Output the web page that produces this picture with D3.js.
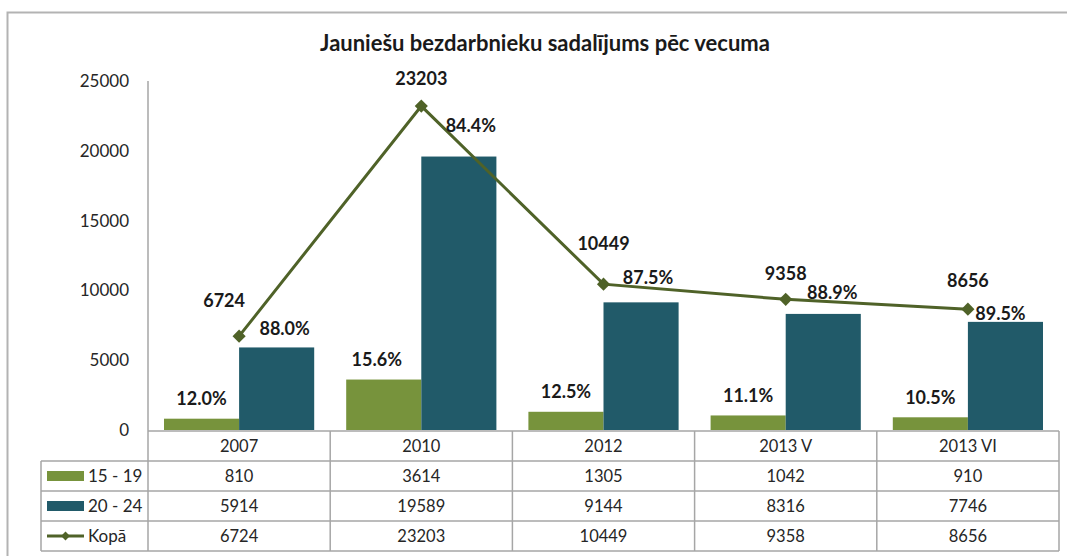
<!DOCTYPE html>
<html>
<head>
<meta charset="utf-8">
<script src="https://cdn.jsdelivr.net/npm/d3@7"></script>
<style>
	body { margin: 0; background: #fff; }
	svg { display: block; font-family: "Lato", "Open Sans", sans-serif; }
</style>
</head>
<body>
<script>
const categories = ["2007", "2010", "2012", "2013 V", "2013 VI"];
const age1519 = [810, 3614, 1305, 1042, 910];
const age2024 = [5914, 19589, 9144, 8316, 7746];
const kopa = [6724, 23203, 10449, 9358, 8656];
const yTicks = [0, 5000, 10000, 15000, 20000, 25000];
const seriesNames = ["15 - 19", "20 - 24", "Kopā"];
const titleText = "Jauniešu bezdarbnieku sadalījums pēc vecuma";

// label nudges (dx, dy) like the hand-moved labels in the original
const kopaNudge = [[-15, -35], [0, -27], [0, -40], [0, -26], [0, -28]];
const pctNudge1519 = [[0, -20], [-7, -20], [0, -20], [0, -20], [0, -20]];
const pctNudge2024 = [[8, -19], [12, -31], [7, -25], [9, -21], [-5, -8]];

const width = 1067;
const height = 556;
const green = "#77933c";
const teal = "#215a69";
const lineCol = "#4f6228";
const gridCol = "#a6a6a6";

const plotLeft = 148;
const plotRight = 1059;
const plotTop = 81;
const plotBottom = 430;
const rowH = 30;
const tableTop = 431;
const legendLeft = 41;

const svg = d3
	.select("body")
	.append("svg")
	.attr("width", width)
	.attr("height", height);

// outer chart border (runs off the right and bottom edge)
svg.append("rect")
	.attr("x", 7.5)
	.attr("y", 12.5)
	.attr("width", width + 20)
	.attr("height", height + 20)
	.attr("fill", "none")
	.attr("stroke", "#b3b3b3")
	.attr("stroke-width", 2);

svg.append("text")
	.attr("x", 545)
	.attr("y", 51)
	.attr("text-anchor", "middle")
	.attr("font-size", 22)
	.attr("font-weight", "bold")
	.attr("fill", "#1a1a1a")
	.text(titleText);

const x0 = d3.scaleBand().domain(categories).range([plotLeft, plotRight]);
const x1 = d3
	.scaleBand()
	.domain([0, 1])
	.range([16, x0.bandwidth() - 16]);
const y = d3.scaleLinear().domain([0, 25000]).range([plotBottom, plotTop]);

// y axis labels, no tick marks
const yAxis = svg
	.append("g")
	.attr("transform", `translate(${plotLeft},0)`)
	.call(d3.axisLeft(y).tickValues(yTicks).tickSize(0).tickPadding(19).tickFormat(d3.format("d")));
yAxis.select(".domain").remove();
yAxis.selectAll("text")
	.attr("font-size", 17)
	.attr("font-family", "Lato, 'Open Sans', sans-serif")
	.attr("fill", "#262626");

// bars
const barData = [];
categories.forEach((c, i) => {
	barData.push({ cat: c, s: 0, v: age1519[i] });
	barData.push({ cat: c, s: 1, v: age2024[i] });
});
svg.append("g")
	.selectAll("rect")
	.data(barData)
	.enter()
	.append("rect")
	.attr("x", (d) => x0(d.cat) + x1(d.s))
	.attr("y", (d) => y(d.v))
	.attr("width", x1.bandwidth())
	.attr("height", (d) => plotBottom - y(d.v))
	.attr("fill", (d) => (d.s == 0 ? green : teal));

// axis lines
svg.append("line")
	.attr("x1", plotLeft).attr("x2", plotLeft)
	.attr("y1", plotTop).attr("y2", tableTop + rowH * 4)
	.attr("stroke", gridCol).attr("stroke-width", 1.5);

// data table
const tbl = svg.append("g").attr("stroke", gridCol).attr("stroke-width", 1.5);
for (let r = 0; r <= 4; r++) {
	tbl.append("line")
		.attr("x1", r == 0 ? plotLeft : legendLeft)
		.attr("x2", plotRight)
		.attr("y1", tableTop + r * rowH)
		.attr("y2", tableTop + r * rowH);
}
tbl.append("line")
	.attr("x1", legendLeft).attr("x2", legendLeft)
	.attr("y1", tableTop + rowH).attr("y2", tableTop + rowH * 4);
categories.forEach((c) => {
	tbl.append("line")
		.attr("x1", x0(c) + x0.bandwidth()).attr("x2", x0(c) + x0.bandwidth())
		.attr("y1", tableTop).attr("y2", tableTop + rowH * 4);
});

const rows = [categories, age1519, age2024, kopa];
rows.forEach((row, r) => {
	svg.append("g")
		.selectAll("text")
		.data(row)
		.enter()
		.append("text")
		.attr("x", (d, i) => x0(categories[i]) + x0.bandwidth() / 2)
		.attr("y", tableTop + r * rowH + rowH / 2)
		.attr("dy", "0.35em")
		.attr("text-anchor", "middle")
		.attr("font-size", 16.5)
		.attr("fill", "#262626")
		.text((d) => d);
});

// legend keys in the table
seriesNames.forEach((name, i) => {
	const cy = tableTop + (i + 1) * rowH + rowH / 2;
	if (i < 2) {
		svg.append("rect")
			.attr("x", 47).attr("y", cy - 5)
			.attr("width", 37).attr("height", 10)
			.attr("fill", i == 0 ? green : teal);
	} else {
		svg.append("line")
			.attr("x1", 47).attr("x2", 84)
			.attr("y1", cy).attr("y2", cy)
			.attr("stroke", lineCol).attr("stroke-width", 3);
		svg.append("path")
			.attr("d", d3.symbol(d3.symbolDiamond2, 50)())
			.attr("transform", `translate(65.5,${cy})`)
			.attr("fill", lineCol);
	}
	svg.append("text")
		.attr("x", 88).attr("y", cy).attr("dy", "0.35em")
		.attr("font-size", 17)
		.attr("fill", "#262626")
		.text(name);
});

// Kopā line
const cx = (i) => x0(categories[i]) + x0.bandwidth() / 2;
const line = d3
	.line()
	.x((d, i) => cx(i))
	.y((d) => y(d));
svg.append("path")
	.datum(kopa)
	.attr("d", line)
	.attr("fill", "none")
	.attr("stroke", lineCol)
	.attr("stroke-width", 3);
svg.append("g")
	.selectAll("path")
	.data(kopa)
	.enter()
	.append("path")
	.attr("d", d3.symbol(d3.symbolDiamond2, 110)())
	.attr("transform", (d, i) => `translate(${cx(i)},${y(d)})`)
	.attr("fill", lineCol);

// value labels
const labels = svg.append("g")
	.attr("font-size", 18)
	.attr("font-weight", "bold")
	.attr("fill", "#1a1a1a")
	.attr("text-anchor", "middle");
kopa.forEach((v, i) => {
	labels.append("text")
		.attr("x", cx(i) + kopaNudge[i][0])
		.attr("y", y(v) + kopaNudge[i][1])
		.attr("dy", "0.35em")
		.text(v);
});
const pct = d3.format(".1f");
categories.forEach((c, i) => {
	labels.append("text")
		.attr("x", x0(c) + x1(0) + x1.bandwidth() / 2 + pctNudge1519[i][0])
		.attr("y", y(age1519[i]) + pctNudge1519[i][1])
		.attr("dy", "0.35em")
		.text(pct((age1519[i] / kopa[i]) * 100) + "%");
	labels.append("text")
		.attr("x", x0(c) + x1(1) + x1.bandwidth() / 2 + pctNudge2024[i][0])
		.attr("y", y(age2024[i]) + pctNudge2024[i][1])
		.attr("dy", "0.35em")
		.text(pct((age2024[i] / kopa[i]) * 100) + "%");
});
</script>
</body>
</html>
